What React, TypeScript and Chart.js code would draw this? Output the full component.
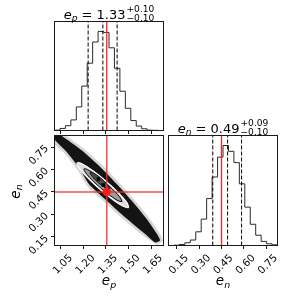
import React, { useEffect, useRef } from "react";
import { Chart, registerables } from "chart.js";

Chart.register(...registerables);

const FONT = "'DejaVu Sans', sans-serif";

// ---------- data ----------
const EP_RANGE = [1.007, 1.733];
const EN_RANGE = [0.093, 0.827];
const EP_TICKS = [1.05, 1.2, 1.35, 1.5, 1.65];
const EN_TICKS = [0.15, 0.3, 0.45, 0.6, 0.75];

// 20-bin marginal histograms (relative counts)
const EP_COUNTS = [1, 6, 14, 31, 69, 130, 197, 259, 290, 287, 242, 182, 115, 65, 29, 13, 5, 1, 0.5, 0];
const EN_COUNTS = [0, 1, 3, 8, 16, 40, 77, 137, 200, 258, 292, 275, 242, 180, 112, 62, 30, 12, 5, 2];

// 16/50/84 % quantiles (dashed lines)
const EP_QUANTILES = [1.231, 1.329, 1.424];
const EN_QUANTILES = [0.391, 0.491, 0.585];

const EP_TITLE = { value: "1.33", plus: "+0.10", minus: "\u22120.10" };
const EN_TITLE = { value: "0.49", plus: "+0.09", minus: "\u22120.10" };

const TRUTH_EP = 1.355;
const TRUTH_EN = 0.45;

// 2-D posterior: outer scatter fuzz, dense cloud and density contours (e_p, e_n)
const CLOUD_FUZZ = [
  [0.99, 0.85], [1.058, 0.843], [1.205, 0.737], [1.328, 0.626], [1.436, 0.514], [1.536, 0.402],
  [1.628, 0.29], [1.705, 0.178], [1.728, 0.125], [1.69, 0.1], [1.602, 0.154], [1.468, 0.266],
  [1.344, 0.378], [1.224, 0.49], [1.157, 0.602], [1.068, 0.713], [0.995, 0.785],
];
const CLOUD_CORE = [
  [1.007, 0.831], [1.043, 0.831], [1.192, 0.725], [1.315, 0.614], [1.423, 0.502], [1.523, 0.39],
  [1.615, 0.278], [1.692, 0.166], [1.71, 0.126], [1.677, 0.113], [1.615, 0.166], [1.481, 0.278],
  [1.357, 0.39], [1.237, 0.502], [1.17, 0.614], [1.081, 0.725], [1.01, 0.797],
];
const CONTOUR_OUTER = [
  [1.5016, 0.346], [1.4895, 0.3787], [1.4347, 0.4425], [1.3518, 0.5204], [1.2631, 0.5915],
  [1.1923, 0.6367], [1.1584, 0.644], [1.1705, 0.6113], [1.2253, 0.5475], [1.3082, 0.4696],
  [1.397, 0.3985], [1.4677, 0.3533],
];
const CONTOUR_MID = [
  [1.4562, 0.3854], [1.4469, 0.409], [1.4063, 0.4556], [1.3452, 0.5128], [1.2801, 0.5652],
  [1.2283, 0.5988], [1.2038, 0.6046], [1.2131, 0.581], [1.2537, 0.5344], [1.3148, 0.4772],
  [1.3799, 0.4248], [1.4317, 0.3912],
];
const CONTOUR_INNER = [
  [1.3756, 0.468], [1.3722, 0.482], [1.3522, 0.5075], [1.3209, 0.5377], [1.2866, 0.5645],
  [1.2586, 0.5808], [1.2444, 0.582], [1.2478, 0.568], [1.2678, 0.5425], [1.2991, 0.5123],
  [1.3334, 0.4855], [1.3614, 0.4692],
];
const PEAK_CELLS = [[1.299, 0.537], [1.332, 0.497]];

// ---------- layout (pixels) ----------
const COL1 = [54.5, 163.5];
const COL2 = [168.5, 277.5];
const ROW1 = [21.5, 130.5];
const ROW2 = [135.5, 245.5];
const W = 300;
const H = 300;

const closed = (arr: number[][]) => [...arr, arr[0]].map(([x, y]) => ({ x, y }));

function stepPoints(counts: number[], range: number[]) {
  const w = (range[1] - range[0]) / counts.length;
  const pts = [{ x: range[0], y: 0 }];
  counts.forEach((c, i) => pts.push({ x: range[0] + i * w, y: c }));
  pts.push({ x: range[1], y: 0 });
  return pts;
}

function measureSymbol(ctx: CanvasRenderingContext2D, sub: string, S: number) {
  ctx.font = `italic ${S}px ${FONT}`;
  const w1 = ctx.measureText("e").width;
  ctx.font = `italic ${S * 0.7}px ${FONT}`;
  const w2 = ctx.measureText(sub).width;
  return w1 + w2;
}
function drawSymbol(ctx: CanvasRenderingContext2D, x: number, y: number, sub: string, S: number) {
  ctx.font = `italic ${S}px ${FONT}`;
  ctx.fillText("e", x, y);
  const w1 = ctx.measureText("e").width;
  ctx.font = `italic ${S * 0.7}px ${FONT}`;
  ctx.fillText(sub, x + w1, y + S * 0.2);
}
function drawTitle(ctx: CanvasRenderingContext2D, cx: number, y: number, sub: string, t: any, S: number) {
  ctx.save();
  ctx.fillStyle = "#000";
  ctx.textAlign = "left";
  ctx.textBaseline = "alphabetic";
  const ws = measureSymbol(ctx, sub, S);
  const mid = ` = ${t.value}`;
  ctx.font = `${S}px ${FONT}`;
  const wm = ctx.measureText(mid).width;
  ctx.font = `${S * 0.7}px ${FONT}`;
  const wsc = Math.max(ctx.measureText(t.plus).width, ctx.measureText(t.minus).width);
  const total = ws + wm + 1 + wsc;
  let x = cx - total / 2;
  drawSymbol(ctx, x, y, sub, S);
  x += ws;
  ctx.font = `${S}px ${FONT}`;
  ctx.fillText(mid, x, y);
  x += wm + 1;
  ctx.font = `${S * 0.7}px ${FONT}`;
  ctx.fillText(t.plus, x, y - S * 0.52);
  ctx.fillText(t.minus, x, y + S * 0.2);
  ctx.restore();
}
function drawAxisLabel(ctx: CanvasRenderingContext2D, cx: number, y: number, sub: string, S: number, rotate = false) {
  ctx.save();
  ctx.fillStyle = "#000";
  ctx.textAlign = "left";
  ctx.textBaseline = "alphabetic";
  const w = measureSymbol(ctx, sub, S);
  if (rotate) {
    ctx.translate(cx, y);
    ctx.rotate(-Math.PI / 2);
    drawSymbol(ctx, -w / 2, 0, sub, S);
  } else {
    drawSymbol(ctx, cx - w / 2, y, sub, S);
  }
  ctx.restore();
}

const boxPlugin = {
  id: "box",
  afterDraw(chart: any) {
    const { ctx, chartArea: a } = chart;
    ctx.save();
    ctx.strokeStyle = "#1a1a1a";
    ctx.lineWidth = 1;
    ctx.strokeRect(a.left, a.top, a.right - a.left, a.bottom - a.top);
    ctx.restore();
  },
};

const tickFont = { family: FONT, size: 10.3 };
const tickGrid = { drawOnChartArea: false, drawTicks: true, tickLength: 3.5, color: "#1a1a1a", lineWidth: 1 };

function xScale(range: number[], ticks: number[], labels: boolean, height: number) {
  return {
    type: "linear",
    min: range[0],
    max: range[1],
    afterBuildTicks: (s: any) => {
      s.ticks = ticks.map((v) => ({ value: v }));
    },
    afterFit: (s: any) => {
      s.height = height;
    },
    border: { display: false },
    grid: tickGrid,
    ticks: {
      display: labels,
      font: tickFont,
      color: "#000",
      minRotation: 45,
      maxRotation: 45,
      padding: 3,
      labelOffset: 10,
      autoSkip: false,
      callback: (v: number) => Number(v).toFixed(2),
    },
  };
}

function histDatasets(counts: number[], range: number[], quantiles: number[], truth: number) {
  const ymax = 1.1 * Math.max(...counts);
  const ds: any[] = [
    {
      data: stepPoints(counts, range),
      showLine: true,
      stepped: "before",
      borderColor: "#2a2a2a",
      borderWidth: 1,
      pointRadius: 0,
      fill: false,
      order: 5,
    },
  ];
  quantiles.forEach((q) =>
    ds.push({
      data: [{ x: q, y: 0 }, { x: q, y: ymax }],
      showLine: true,
      borderColor: "#000",
      borderWidth: 1,
      borderDash: [4, 2],
      pointRadius: 0,
      order: 3,
    })
  );
  ds.push({
    data: [{ x: truth, y: 0 }, { x: truth, y: ymax }],
    showLine: true,
    borderColor: "#ff2020",
    borderWidth: 1.3,
    pointRadius: 0,
    order: 1,
  });
  return { ds, ymax };
}

const baseOptions = {
  animation: false,
  responsive: false,
  maintainAspectRatio: false,
  events: [],
  plugins: { legend: { display: false }, tooltip: { enabled: false } },
};

export default function App() {
  const c1 = useRef<HTMLCanvasElement>(null);
  const c2 = useRef<HTMLCanvasElement>(null);
  const c3 = useRef<HTMLCanvasElement>(null);

  useEffect(() => {
    document.body.style.margin = "0";
    const charts: Chart[] = [];

    // ---- top: e_p marginal ----
    const h1 = histDatasets(EP_COUNTS, EP_RANGE, EP_QUANTILES, TRUTH_EP);
    charts.push(
      new Chart(c1.current as HTMLCanvasElement, {
        type: "scatter",
        data: { datasets: h1.ds },
        options: {
          ...baseOptions,
          layout: { padding: { left: COL1[0], right: W - COL1[1], top: ROW1[0], bottom: H - ROW1[1] - 4 } },
          scales: {
            x: xScale(EP_RANGE, EP_TICKS, false, 4),
            y: { display: false, min: 0, max: h1.ymax },
          },
        } as any,
        plugins: [
          boxPlugin,
          {
            id: "t1",
            afterDraw(chart: any) {
              const a = chart.chartArea;
              drawTitle(chart.ctx, (a.left + a.right) / 2, a.top - 3, "p", EP_TITLE, 13);
            },
          },
        ],
      })
    );

    // ---- lower-left: 2-D ----
    const ymin = EN_RANGE[0];
    const ymaxv = EN_RANGE[1];
    charts.push(
      new Chart(c2.current as HTMLCanvasElement, {
        type: "scatter",
        data: {
          datasets: [
            { data: [{ x: TRUTH_EP, y: TRUTH_EN }], pointRadius: 4, pointBackgroundColor: "#ff1a1a", pointBorderWidth: 0, order: 1 },
            { data: [{ x: TRUTH_EP, y: ymin }, { x: TRUTH_EP, y: ymaxv }], showLine: true, borderColor: "rgba(255,40,40,0.85)", borderWidth: 1.5, pointRadius: 0, order: 2 },
            { data: [{ x: EP_RANGE[0], y: TRUTH_EN }, { x: EP_RANGE[1], y: TRUTH_EN }], showLine: true, borderColor: "rgba(255,40,40,0.85)", borderWidth: 1.5, pointRadius: 0, order: 2 },
            { data: PEAK_CELLS.map(([x, y]) => ({ x, y })), pointStyle: "rect", pointRadius: 2.4, pointBackgroundColor: "#000", pointBorderWidth: 0, order: 4 },
            { data: closed(CONTOUR_INNER), showLine: true, fill: "shape", tension: 0.4, backgroundColor: "#4a4a4a", borderColor: "#000", borderWidth: 0.8, pointRadius: 0, order: 5 },
            { data: closed(CONTOUR_MID), showLine: true, fill: "shape", tension: 0.4, backgroundColor: "#9c9c9c", borderColor: "#000", borderWidth: 1, pointRadius: 0, order: 6 },
            { data: closed(CONTOUR_OUTER), showLine: true, fill: "shape", tension: 0.4, backgroundColor: "#dcdcdc", borderColor: "#fff", borderWidth: 1.2, pointRadius: 0, order: 7 },
            { data: closed(CLOUD_CORE), showLine: true, fill: "shape", tension: 0.2, backgroundColor: "#141414", borderColor: "rgba(0,0,0,0)", borderWidth: 0, pointRadius: 0, order: 8 },
            { data: closed(CLOUD_FUZZ), showLine: true, fill: "shape", tension: 0.2, backgroundColor: "rgba(0,0,0,0.16)", borderColor: "rgba(0,0,0,0)", borderWidth: 0, pointRadius: 0, order: 9 },
          ],
        },
        options: {
          ...baseOptions,
          layout: { padding: { left: 0, right: W - COL1[1], top: ROW2[0], bottom: 0 } },
          scales: {
            x: xScale(EP_RANGE, EP_TICKS, true, H - ROW2[1]),
            y: {
              type: "linear",
              min: EN_RANGE[0],
              max: EN_RANGE[1],
              afterBuildTicks: (s: any) => {
                s.ticks = EN_TICKS.map((v) => ({ value: v }));
              },
              afterFit: (s: any) => {
                s.width = COL1[0];
              },
              border: { display: false },
              grid: tickGrid,
              ticks: {
                font: tickFont,
                color: "#000",
                minRotation: 45,
                maxRotation: 45,
                padding: 4,
                autoSkip: false,
                callback: (v: number) => Number(v).toFixed(2),
              },
            },
          },
        } as any,
        plugins: [
          boxPlugin,
          {
            id: "l2",
            afterDraw(chart: any) {
              const a = chart.chartArea;
              drawAxisLabel(chart.ctx, (a.left + a.right) / 2, 285, "p", 13.5);
              drawAxisLabel(chart.ctx, 19.5, (a.top + a.bottom) / 2 + 1, "n", 13.5, true);
            },
          },
        ],
      })
    );

    // ---- lower-right: e_n marginal ----
    const h3 = histDatasets(EN_COUNTS, EN_RANGE, EN_QUANTILES, TRUTH_EN);
    charts.push(
      new Chart(c3.current as HTMLCanvasElement, {
        type: "scatter",
        data: { datasets: h3.ds },
        options: {
          ...baseOptions,
          layout: { padding: { left: COL2[0], right: W - COL2[1], top: ROW2[0], bottom: 0 } },
          scales: {
            x: xScale(EN_RANGE, EN_TICKS, true, H - ROW2[1]),
            y: { display: false, min: 0, max: h3.ymax },
          },
        } as any,
        plugins: [
          boxPlugin,
          {
            id: "t3",
            afterDraw(chart: any) {
              const a = chart.chartArea;
              drawTitle(chart.ctx, (a.left + a.right) / 2, a.top - 3, "n", EN_TITLE, 13);
              drawAxisLabel(chart.ctx, (a.left + a.right) / 2, 285, "n", 13.5);
            },
          },
        ],
      })
    );

    return () => charts.forEach((c) => c.destroy());
  }, []);

  const cs: React.CSSProperties = { position: "absolute", left: 0, top: 0, width: W, height: H };
  return (
    <div style={{ position: "relative", width: W, height: H, background: "#fff" }}>
      <canvas ref={c2} width={W} height={H} style={cs} />
      <canvas ref={c3} width={W} height={H} style={cs} />
      <canvas ref={c1} width={W} height={H} style={cs} />
    </div>
  );
}
